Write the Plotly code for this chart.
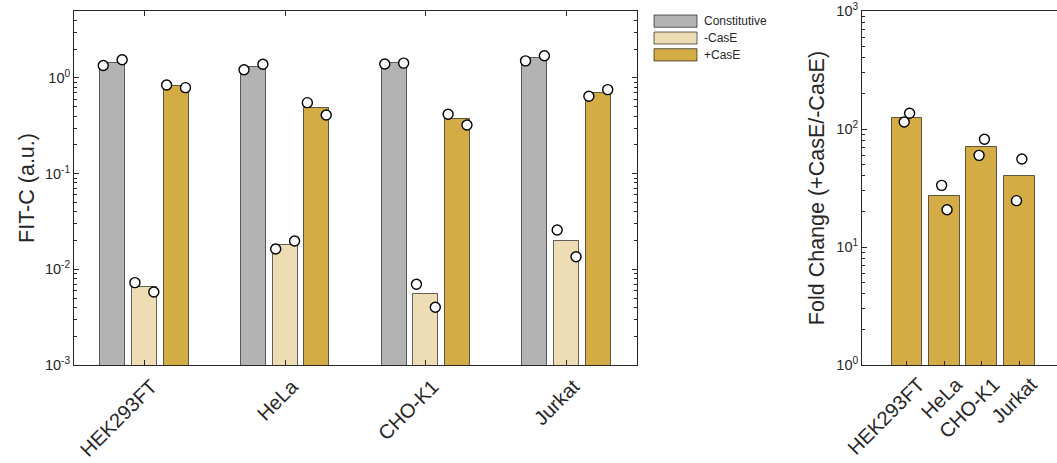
import plotly.graph_objects as go

# ---------------- data ----------------
cell_lines = ["HEK293FT", "HeLa", "CHO-K1", "Jurkat"]
series_names = ["Constitutive", "-CasE", "+CasE"]

constitutive_mean = [1.45, 1.30, 1.42, 1.61]
constitutive_reps = [[1.35, 1.55], [1.22, 1.39], [1.40, 1.43], [1.51, 1.71]]

minus_case_mean = [0.00653, 0.0180, 0.00549, 0.0197]
minus_case_reps = [[0.00726, 0.00580], [0.01632, 0.01977], [0.00697, 0.00401], [0.02578, 0.01355]]

plus_case_mean = [0.818, 0.481, 0.370, 0.700]
plus_case_reps = [[0.845, 0.792], [0.552, 0.410], [0.417, 0.323], [0.643, 0.755]]

fold_mean = [125.0, 27.0, 70.3, 40.0]
fold_reps = [[114.5, 135.8], [33.3, 20.7], [59.8, 81.9], [24.7, 55.7]]

left_ticktext = ["10<sup>-3</sup>", "10<sup>-2</sup>", "10<sup>-1</sup>", "10<sup>0</sup>"]
left_tickvals = [1e-3, 1e-2, 1e-1, 1e0]
right_ticktext = ["10<sup>0</sup>", "10<sup>1</sup>", "10<sup>2</sup>", "10<sup>3</sup>"]
right_tickvals = [1e0, 1e1, 1e2, 1e3]

# ---------------- style ----------------
colors = ["#b3b3b3", "#eddcb4", "#d4ac45"]
edge = "rgba(0,0,0,0.6)"
FONT = "Liberation Sans, Arial, Helvetica, sans-serif"
INK = "#262626"
W, H = 1057, 463
L_LEFT, L_RIGHT = 74, 637
R_LEFT = 862
TOP, BOT = 11, 365

offsets = [-0.225, 0.0, 0.225]
bar_w = 0.178
pt_off = 0.067

fig = go.Figure()
groups = list(range(1, len(cell_lines) + 1))
means = [constitutive_mean, minus_case_mean, plus_case_mean]
reps = [constitutive_reps, minus_case_reps, plus_case_reps]

for k in range(3):
    xs = [g + offsets[k] for g in groups]
    fig.add_trace(go.Bar(
        x=xs, y=means[k], width=bar_w, name=series_names[k],
        marker=dict(color=colors[k], line=dict(color=edge, width=1)),
        xaxis="x", yaxis="y", showlegend=False))
for k in range(3):
    px, py = [], []
    for i, g in enumerate(groups):
        for j, v in enumerate(reps[k][i]):
            px.append(g + offsets[k] + (-pt_off if j == 0 else pt_off))
            py.append(v)
    fig.add_trace(go.Scatter(
        x=px, y=py, mode="markers",
        marker=dict(size=10, color="white", line=dict(color="black", width=1.4)),
        xaxis="x", yaxis="y", showlegend=False, cliponaxis=False))

# right panel
fig.add_trace(go.Bar(
    x=groups, y=fold_mean, width=0.82,
    marker=dict(color=colors[2], line=dict(color=edge, width=1)),
    xaxis="x2", yaxis="y2", showlegend=False))
fx, fy = [], []
for i, g in enumerate(groups):
    for j, v in enumerate(fold_reps[i]):
        fx.append(g + (-0.072 if j == 0 else 0.072))
        fy.append(v)
fig.add_trace(go.Scatter(
    x=fx, y=fy, mode="markers",
    marker=dict(size=10, color="white", line=dict(color="black", width=1.4)),
    xaxis="x2", yaxis="y2", showlegend=False, cliponaxis=False))

def minor_vals(lo, hi, top):
    out = []
    for e in range(lo, hi + 1):
        for m in range(2, 10):
            v = m * 10 ** e
            if v <= top:
                out.append(v)
    return out

line_common = dict(showline=True, linecolor=INK, linewidth=1, automargin=False,
                   ticks="inside", tickcolor=INK, showgrid=False, zeroline=False)
ytick_font = dict(family=FONT, size=14.5, color=INK)
xtick_font = dict(family=FONT, size=20, color=INK)
title_font = dict(family=FONT, size=21.5, color=INK)

fig.update_layout(
    width=W, height=H,
    margin=dict(l=0, r=0, t=TOP, b=H - BOT, autoexpand=False),
    paper_bgcolor="white", plot_bgcolor="white",
    font=dict(family=FONT, color=INK),
    bargap=0, barmode="overlay",
    xaxis=dict(domain=[L_LEFT / W, L_RIGHT / W], range=[0.5, 4.5],
               tickvals=groups, ticktext=cell_lines, tickangle=-45,
               ticklabelshift=7, ticklabelstandoff=1,
               ticklen=5, mirror="ticks", tickfont=xtick_font, **line_common),
    yaxis=dict(type="log", range=[-3, 0.7], anchor="x",
               tickvals=left_tickvals, ticktext=left_ticktext, ticklen=5, mirror="ticks",
               minor=dict(ticks="inside", ticklen=3, tickcolor=INK,
                          tickvals=minor_vals(-3, 0, 5.0)),
               tickfont=ytick_font,
               title=dict(text="FIT-C (a.u.)", font=title_font, standoff=4),
               **line_common),
    xaxis2=dict(domain=[R_LEFT / W, 1.0], range=[-0.2, 5.01], anchor="y2",
                tickvals=groups, ticktext=cell_lines, tickangle=-45, ticklen=4,
                ticklabelshift=12, ticklabelstandoff=-1,
                mirror=True, tickfont=xtick_font, **line_common),
    yaxis2=dict(type="log", range=[0, 3], anchor="x2",
                tickvals=right_tickvals, ticktext=right_ticktext, ticklen=5,
                minor=dict(ticks="inside", ticklen=3, tickcolor=INK,
                           tickvals=minor_vals(0, 2, 1000)),
                tickfont=ytick_font,
                title=dict(text="Fold Change (+CasE/-CasE)", font=title_font, standoff=5),
                **line_common),
)

# custom legend (wide swatches like the reference)
leg_x0, leg_x1, leg_tx = 654, 697, 702
leg_rows = [(15, 27.3), (32, 44), (48.7, 61)]
def py2paper(y):
    return (BOT - y) / (BOT - TOP)
for k, (y0, y1) in enumerate(leg_rows):
    fig.add_shape(type="rect", xref="paper", yref="paper",
                  x0=leg_x0 / W, x1=leg_x1 / W, y0=py2paper(y1), y1=py2paper(y0),
                  fillcolor=colors[k], line=dict(color=edge, width=1))
    fig.add_annotation(xref="paper", yref="paper", x=leg_tx / W, y=py2paper((y0 + y1) / 2),
                       text=series_names[k], showarrow=False, xanchor="left", yanchor="middle",
                       font=dict(family=FONT, size=12, color=INK))

fig.write_html("out.html", config={"displayModeBar": False},
               post_script="document.body.style.margin='0';document.body.style.overflow='hidden';")
